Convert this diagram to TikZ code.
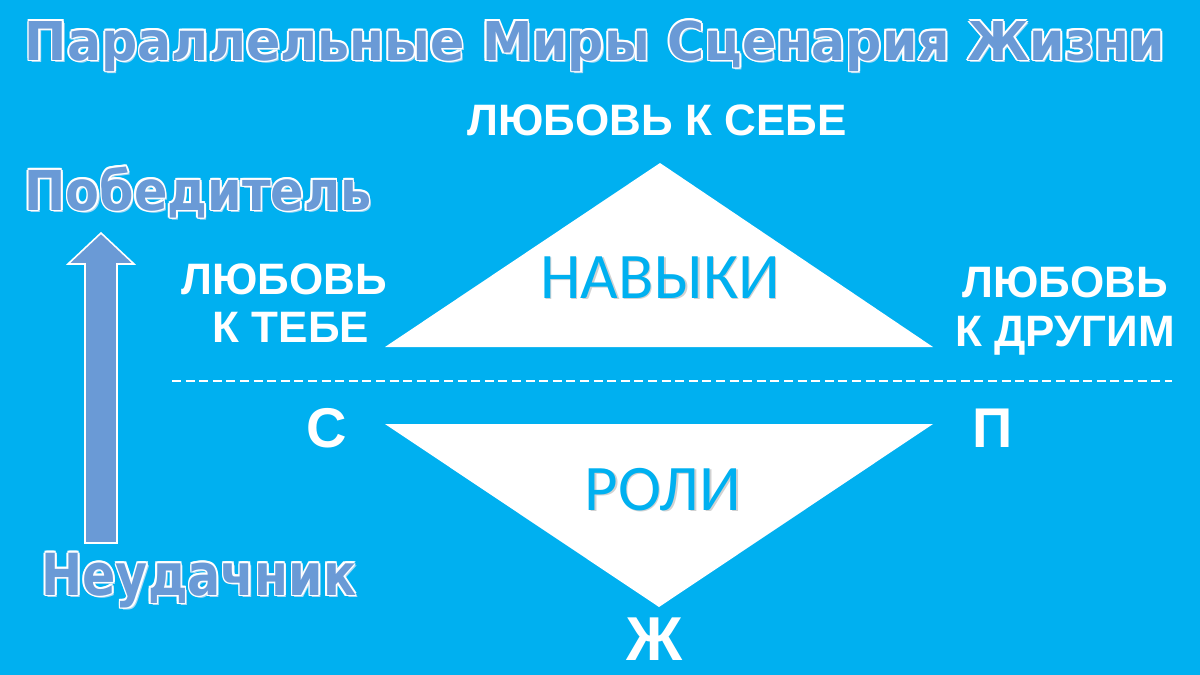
\documentclass[tikz,border=0pt]{standalone}
\usepackage{fontspec}
\setmainfont{Liberation Sans}
\newfontfamily\titlefont{DejaVu Sans}
\newfontfamily\calfont{Carlito}
\usetikzlibrary{calc}
\definecolor{bgblue}{HTML}{00B0F0}
\definecolor{titleblue}{HTML}{6A9AD6}
\definecolor{glowblue}{HTML}{A8D8F4}
\definecolor{arrowblue}{HTML}{6A9AD6}
% #1 name, #2 position, #3 width, #4 font size, #5 text
\newcommand\glowtext[5]{%
  \node[anchor=base, inner sep=0, text=glowblue] (#1-sh) at ($(#2)+(2.2,2.6)$)
    {\resizebox{#3}{\height}{\titlefont\bfseries\fontsize{#4}{#4}\selectfont #5}};
  \foreach \a in {0,45,...,315}{%
    \node[anchor=base, inner sep=0, text=white] (#1-\a) at ($(#2)+(\a:1.7)$)
      {\resizebox{#3}{\height}{\titlefont\bfseries\fontsize{#4}{#4}\selectfont #5}};
  }
  \node[anchor=base, inner sep=0, text=titleblue] (#1) at (#2)
    {\resizebox{#3}{\height}{\titlefont\bfseries\fontsize{#4}{#4}\selectfont #5}};
}
\tikzset{
  lbl/.style={anchor=base, inner sep=0, text=white, font=\bfseries\fontsize{22}{25}\selectfont},
  bigletter/.style={anchor=base, inner sep=0, text=white, font=\bfseries\fontsize{28}{31}\selectfont},
  trilabel/.style={anchor=base, inner sep=0, text=bgblue, font=\calfont\fontsize{32.5}{36}\selectfont},
  trishadow/.style={anchor=base, inner sep=0, text=black!18, font=\calfont\fontsize{32.5}{36}\selectfont},
}
\begin{document}
\begin{tikzpicture}[x=0.5pt,y=-0.5pt]
\fill[bgblue] (0,0) rectangle (1200,675);
\useasboundingbox (0,0) rectangle (1200,675);

% titles with outline
\coordinate (tpos) at (595,60);
\glowtext{title}{tpos}{570pt}{26.75}{Параллельные Миры Сценария Жизни}
\coordinate (wpos) at (198,210);
\glowtext{winner}{wpos}{173.5pt}{27.5}{Победитель}
\coordinate (lpos) at (199,595);
\glowtext{loser}{lpos}{157.5pt}{29}{Неудачник}

% arrow
\draw[fill=arrowblue, draw=white, line width=0.8pt]
  (85,543) -- (85,264) -- (68,264) -- (101,233) -- (134,264) -- (117,264) -- (117,543) -- cycle;

% triangles
\coordinate (upA) at (660,163);
\coordinate (upL) at (385,347);
\coordinate (upR) at (933,347);
\fill[white] (upA) -- (upL) -- (upR) -- cycle;
\coordinate (loA) at (659,607);
\coordinate (loL) at (385,424);
\coordinate (loR) at (933,424);
\fill[white] (loA) -- (loL) -- (loR) -- cycle;

% dashed line
\coordinate (dashL) at (172,381);
\coordinate (dashR) at (1172,381);
\draw[white, line width=1.1pt, dash pattern=on 4.5pt off 2.3pt] (dashL) -- (dashR);

% labels
\node[lbl] (self) at (657,135) {ЛЮБОВЬ К СЕБЕ};
\node[lbl] (youA) at (284,294) {ЛЮБОВЬ};
\node[lbl] (youB) at (291,342) {К ТЕБЕ};
\node[lbl] (othA) at (1065,297) {ЛЮБОВЬ};
\node[lbl] (othB) at (1065,346) {К ДРУГИМ};

\node[bigletter] (S) at (327,447) {С};
\node[bigletter] (P) at (993,447) {П};
\node[bigletter, font=\bfseries\fontsize{31}{34}\selectfont] (Zh) at (655,660) {Ж};

\node[trishadow] (skills-sh) at (661.5,299.5) {НАВЫКИ};
\node[trilabel] (skills) at (660,298) {НАВЫКИ};
\node[trishadow] (roles-sh) at (664.5,511.5) {РОЛИ};
\node[trilabel] (roles) at (663,510) {РОЛИ};
\end{tikzpicture}
\end{document}
